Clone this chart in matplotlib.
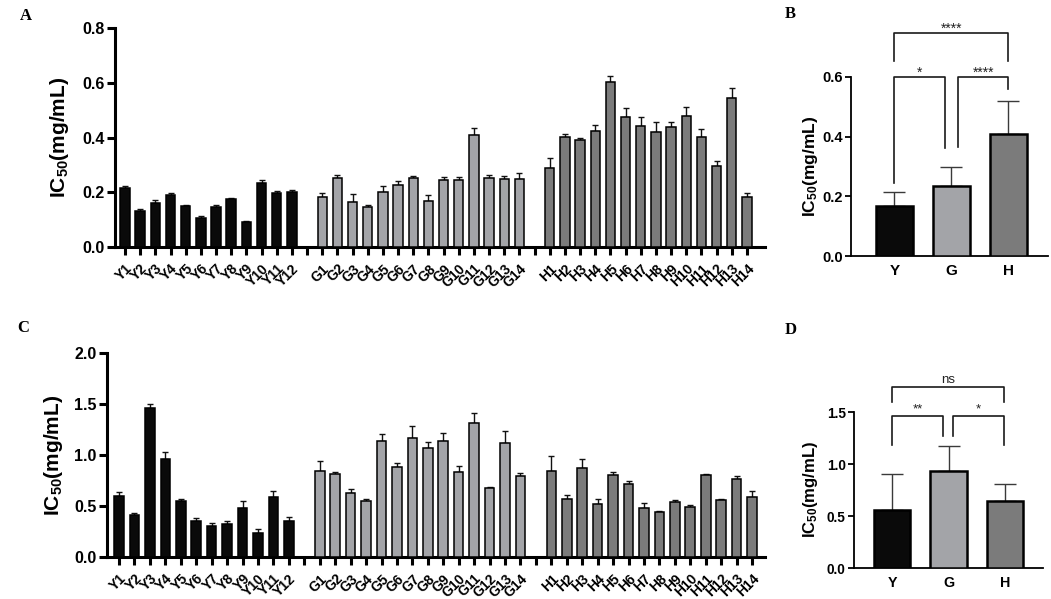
import matplotlib
matplotlib.use("Agg")
import matplotlib.pyplot as plt
import numpy as np

plt.rcParams['font.family'] = ['Liberation Sans', 'DejaVu Sans']
plt.rcParams['mathtext.fontset'] = 'custom'
plt.rcParams['mathtext.rm'] = 'Liberation Sans:bold'
plt.rcParams['mathtext.bf'] = 'Liberation Sans:bold'
plt.rcParams['mathtext.default'] = 'bf'

# ---------------- data ----------------
y_labels = [f"Y{i}" for i in range(1, 13)]
g_labels = [f"G{i}" for i in range(1, 15)]
h_labels = [f"H{i}" for i in range(1, 15)]

a_y = [0.217, 0.131, 0.162, 0.190, 0.150, 0.105, 0.145, 0.175, 0.092, 0.235, 0.196, 0.202]
a_y_err = [0.005, 0.008, 0.008, 0.006, 0.003, 0.008, 0.007, 0.005, 0.002, 0.008, 0.009, 0.008]
a_g = [0.182, 0.253, 0.164, 0.145, 0.201, 0.226, 0.253, 0.169, 0.246, 0.246, 0.409, 0.252, 0.247, 0.248]
a_g_err = [0.017, 0.011, 0.031, 0.008, 0.022, 0.016, 0.005, 0.021, 0.011, 0.011, 0.024, 0.012, 0.012, 0.024]
a_h = [0.287, 0.403, 0.390, 0.423, 0.603, 0.474, 0.442, 0.420, 0.440, 0.478, 0.403, 0.296, 0.543, 0.184]
a_h_err = [0.037, 0.010, 0.010, 0.024, 0.022, 0.034, 0.034, 0.037, 0.017, 0.032, 0.027, 0.018, 0.039, 0.015]

c_y = [0.602, 0.416, 1.460, 0.965, 0.545, 0.355, 0.308, 0.327, 0.476, 0.240, 0.584, 0.355]
c_y_err = [0.039, 0.013, 0.039, 0.065, 0.026, 0.026, 0.023, 0.026, 0.069, 0.033, 0.059, 0.039]
c_g = [0.845, 0.815, 0.625, 0.547, 1.139, 0.887, 1.168, 1.070, 1.142, 0.835, 1.309, 0.674, 1.122, 0.799]
c_g_err = [0.100, 0.020, 0.040, 0.026, 0.065, 0.030, 0.120, 0.060, 0.072, 0.062, 0.098, 0.013, 0.118, 0.020]
c_h = [0.844, 0.566, 0.871, 0.524, 0.808, 0.717, 0.481, 0.445, 0.540, 0.491, 0.802, 0.560, 0.769, 0.586]
c_h_err = [0.147, 0.042, 0.085, 0.046, 0.023, 0.033, 0.052, 0.010, 0.016, 0.023, 0.016, 0.013, 0.030, 0.065]

groups = ["Y", "G", "H"]
b_mean = [0.167, 0.234, 0.408]
b_sd = [0.046, 0.065, 0.110]
d_mean = [0.554, 0.936, 0.647]
d_sd = [0.353, 0.240, 0.161]

b_sig = [("*", 0, 1), ("****", 1, 2), ("****", 0, 2)]
d_sig = [("**", 0, 1), ("*", 1, 2), ("ns", 0, 2)]

c_black = "#0a0a0a"
c_light = "#a3a4a8"
c_dark = "#7b7b7b"
group_colors = [c_black, c_light, c_dark]

W, H = 1051, 599
fig = plt.figure(figsize=(W / 100, H / 100), dpi=100)


def px_axes(l, r, t, b):
    return fig.add_axes([l / W, 1 - b / H, (r - l) / W, (b - t) / H])


ylabel = r'IC$_{50}$(mg/mL)'


def big_panel(ax, vals, errs, ymax, yticks, xlim, ylab_x):
    pos, colors, values, errors = [], [], [], []
    p = 0
    all_ticks, all_tl = [], []
    for gi, (lab, v, e) in enumerate(zip([y_labels, g_labels, h_labels], vals, errs)):
        for l_, vv, ee in zip(lab, v, e):
            pos.append(p); values.append(vv); errors.append(ee); colors.append(group_colors[gi])
            all_ticks.append(p); all_tl.append(l_)
            p += 1
        if gi < 2:
            all_ticks.append(p); all_tl.append("")
            p += 1
    pos = np.array(pos)
    values = np.array(values)
    errors = np.array(errors)
    ax.errorbar(pos, values, yerr=[np.zeros_like(errors), errors], fmt='none',
                ecolor='#111111', elinewidth=1.0, capsize=2, capthick=1.0, zorder=2)
    ax.bar(pos, values, width=0.62, color=colors, edgecolor='black', linewidth=1.1, zorder=3)
    ax.set_xlim(*xlim)
    ax.set_ylim(0, ymax)
    ax.set_yticks(yticks)
    ax.set_yticklabels([f"{t:.1f}" for t in yticks], fontsize=11.5, fontweight='bold')
    ax.set_xticks(all_ticks)
    ax.set_xticklabels(all_tl, rotation=45, ha='right', rotation_mode='anchor',
                       fontsize=10, fontweight='bold')
    for s in ['top', 'right']:
        ax.spines[s].set_visible(False)
    for s in ['left', 'bottom']:
        ax.spines[s].set_linewidth(2.2)
    ax.tick_params(axis='both', width=2.2, length=5.5, pad=2)
    ax.tick_params(axis='x', pad=5)
    ax.set_ylabel(ylabel, fontsize=15, fontweight='bold')
    ax.yaxis.set_label_coords(ylab_x, 0.5)


axA = px_axes(115, 765, 28, 247)
big_panel(axA, [a_y, a_g, a_h], [a_y_err, a_g_err, a_h_err], 0.8, [0.0, 0.2, 0.4, 0.6, 0.8],
          (-0.66, 42.19), -0.068)

axC = px_axes(107, 765, 353, 557)
big_panel(axC, [c_y, c_g, c_h], [c_y_err, c_g_err, c_h_err], 2.0, [0.0, 0.5, 1.0, 1.5, 2.0],
          (-0.78, 41.84), -0.064)


def small_panel(ax, means, sds, ymax, yticks, xlim, ylab_x, sig, levels, tick_fs, lab_fs, sig_fs):
    x = np.arange(len(groups))
    ax.errorbar(x, means, yerr=[np.zeros(len(sds)), sds], fmt='none', ecolor='#3a3a3a',
                elinewidth=1.0, capsize=8, capthick=1.0, zorder=2)
    ax.bar(x, means, width=0.65, color=group_colors, edgecolor='black', linewidth=1.8, zorder=3)
    ax.set_xlim(*xlim)
    ax.set_ylim(0, ymax)
    ax.set_yticks(yticks)
    ax.set_yticklabels([f"{t:.1f}" for t in yticks], fontsize=tick_fs, fontweight='bold')
    ax.set_xticks(x)
    ax.set_xticklabels(groups, fontsize=tick_fs + 0.5, fontweight='bold')
    ax.tick_params(axis='x', length=0, pad=6)
    ax.tick_params(axis='y', width=1.3, length=4, pad=2)
    for s in ['top', 'right']:
        ax.spines[s].set_visible(False)
    for s in ['left', 'bottom']:
        ax.spines[s].set_linewidth(1.3)
    ax.set_ylabel(ylabel, fontsize=lab_fs, fontweight='bold')
    ax.yaxis.set_label_coords(ylab_x, 0.5)
    for (txt, i, j), (ytop, yl, yr, xl, xr, ytxt) in zip(sig, levels):
        ax.plot([xl, xl, xr, xr], [yl, ytop, ytop, yr], color='#1a1a1a', lw=1.2,
                clip_on=False, zorder=4)
        ax.text((xl + xr) / 2, ytxt, txt, ha='center', va='bottom', fontsize=sig_fs,
                color='#222222', clip_on=False)


axB = px_axes(851, 1048, 77, 256)
small_panel(axB, b_mean, b_sd, 0.6, [0.0, 0.2, 0.4, 0.6], (-0.763, 2.693), -0.157, b_sig,
            [(0.600, 0.246, 0.361, 0.0, 0.886, 0.590),
             (0.600, 0.367, 0.560, 1.11, 2.0, 0.590),
             (0.748, 0.653, 0.653, 0.0, 2.0, 0.738)], 10.5, 12.5, 10)

axD = px_axes(854, 1043, 412, 568)
small_panel(axD, d_mean, d_sd, 1.5, [0.0, 0.5, 1.0, 1.5], (-0.673, 2.67), -0.18, d_sig,
            [(1.462, 1.179, 1.270, 0.0, 0.908, 1.465),
             (1.462, 1.270, 1.179, 1.074, 1.98, 1.465),
             (1.737, 1.599, 1.599, 0.0, 1.98, 1.75)], 9.8, 12, 9.5)

for lab, xp, yp in [("A", 20, 16), ("B", 785, 14), ("C", 17, 328), ("D", 785, 330)]:
    fig.text(xp / W, 1 - yp / H, lab, fontsize=12, fontweight='bold',
             family=['Liberation Serif', 'DejaVu Serif'], ha='left', va='center')

fig.savefig("out.png", dpi=100)
